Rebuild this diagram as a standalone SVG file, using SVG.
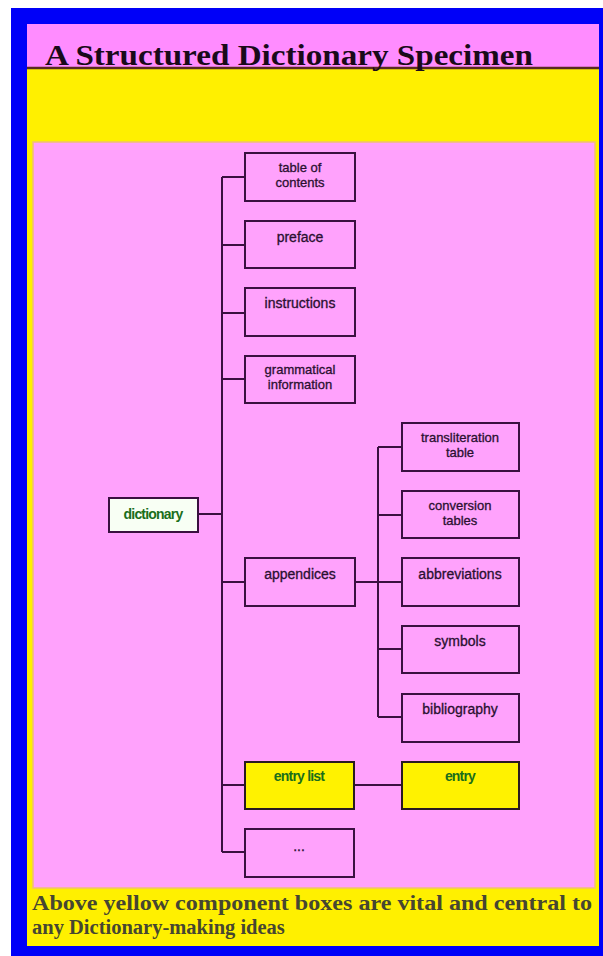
<svg xmlns="http://www.w3.org/2000/svg" width="603" height="956" viewBox="0 0 603 956">
<style>
.box{fill:none;stroke:#3a1040;stroke-width:2}
.lbl{font-family:"Liberation Sans",Arial,sans-serif;font-size:14px;fill:#2a1030;stroke:#2a1030;stroke-width:0.3;text-anchor:middle}
.two{font-size:13px}
.grn{font-family:"Liberation Sans",Arial,sans-serif;font-size:14px;font-weight:bold;fill:#1a6e1a;text-anchor:middle;letter-spacing:-0.8px}
.conn{fill:none;stroke:#3a1040;stroke-width:2}
.serif{font-family:"Liberation Serif","Times New Roman",serif;font-weight:bold}
</style>
<rect x="0" y="0" width="603" height="956" fill="#ffffff"/>
<rect x="11" y="8" width="592" height="948" fill="#0000f8"/>
<rect x="27" y="24" width="572" height="44" fill="#ff8cff"/>
<rect x="27" y="68" width="572" height="878" fill="#fff000"/>
<line x1="27" y1="68" x2="599" y2="68" stroke="#5a2a20" stroke-width="2.5"/>
<rect x="33" y="142" width="562" height="746" fill="#ffa2fc" stroke="#f0c070" stroke-width="1.5"/>
<text class="serif" x="45" y="65" font-size="30" fill="#1a0a1a" textLength="488" lengthAdjust="spacingAndGlyphs">A Structured Dictionary Specimen</text>
<text class="serif" x="32" y="910" font-size="20.5" fill="#464632" textLength="560" lengthAdjust="spacingAndGlyphs">Above yellow component boxes are vital and central to</text>
<text class="serif" x="32" y="934" font-size="20.5" fill="#464632">any Dictionary-making ideas</text>

<g id="connectors">
<path class="conn" d="M198 514H222M222 177V852M222 177H245M222 245H245M222 313H245M222 379H245M222 582H245M222 785H245M222 852H245"/>
<path class="conn" d="M355 582H378M378 447V717M378 447H402M378 515H402M378 582H402M378 649H402M378 717H402"/>
<path class="conn" d="M354 785H402"/>
</g>

<g id="dictionary"><rect x="109" y="498" width="89" height="34" fill="#f8fff4" stroke="#3a1040" stroke-width="2"/><text class="grn" x="153" y="519">dictionary</text></g>
<g id="toc"><rect class="box" x="245" y="153" width="110" height="48"/><text class="lbl two" x="300" y="172">table of</text><text class="lbl two" x="300" y="187">contents</text></g>
<g id="preface"><rect class="box" x="245" y="221" width="110" height="47"/><text class="lbl" x="300" y="242">preface</text></g>
<g id="instructions"><rect class="box" x="245" y="288" width="110" height="48"/><text class="lbl" x="300" y="308">instructions</text></g>
<g id="grammatical"><rect class="box" x="245" y="356" width="110" height="47"/><text class="lbl two" x="300" y="374">grammatical</text><text class="lbl two" x="300" y="389">information</text></g>
<g id="appendices"><rect class="box" x="245" y="558" width="110" height="48"/><text class="lbl" x="300" y="579">appendices</text></g>
<g id="entrylist"><rect x="245" y="762" width="109" height="47" fill="#fff200" stroke="#2a1a20" stroke-width="2"/><text class="grn" x="299" y="781">entry list</text></g>
<g id="more"><rect class="box" x="245" y="829" width="109" height="48"/><text class="lbl" x="299" y="851" font-size="10" fill="#8a5a8a" stroke="none">...</text></g>
<g id="translit"><rect class="box" x="402" y="423" width="117" height="48"/><text class="lbl two" x="460" y="442">transliteration</text><text class="lbl two" x="460" y="457">table</text></g>
<g id="conversion"><rect class="box" x="402" y="491" width="117" height="47"/><text class="lbl two" x="460" y="510">conversion</text><text class="lbl two" x="460" y="525">tables</text></g>
<g id="abbreviations"><rect class="box" x="402" y="558" width="117" height="48"/><text class="lbl" x="460" y="579">abbreviations</text></g>
<g id="symbols"><rect class="box" x="402" y="626" width="117" height="47"/><text class="lbl" x="460" y="646">symbols</text></g>
<g id="bibliography"><rect class="box" x="402" y="694" width="117" height="48"/><text class="lbl" x="460" y="714">bibliography</text></g>
<g id="entry"><rect x="402" y="762" width="117" height="47" fill="#fff200" stroke="#2a1a20" stroke-width="2"/><text class="grn" x="460" y="781">entry</text></g>
</svg>
